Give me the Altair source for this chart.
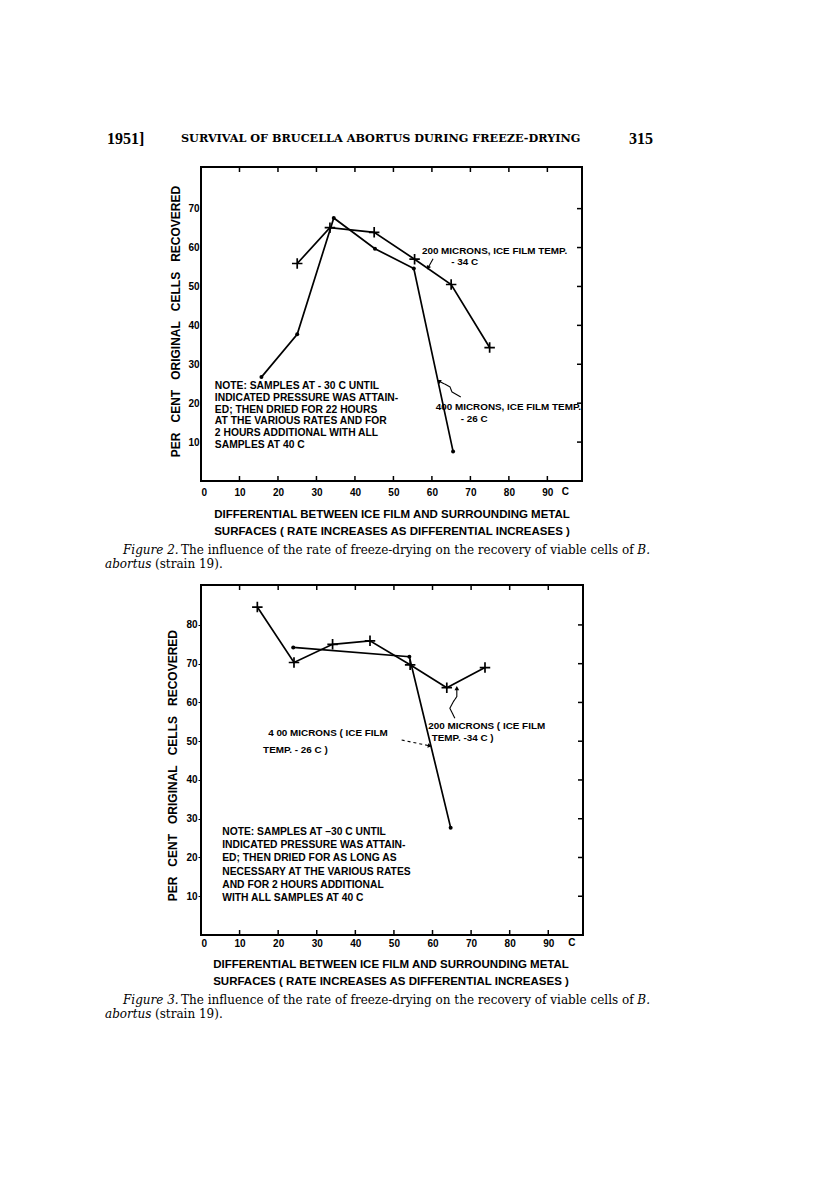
import altair as alt
import pandas as pd

# ---------------- data ----------------
header_year = "1951]"
header_title = "SURVIVAL OF BRUCELLA ABORTUS DURING FREEZE-DRYING"
header_page = "315"

x_ticks = [0, 10, 20, 30, 40, 50, 60, 70, 80, 90]
fig2_y_ticks = [10, 20, 30, 40, 50, 60, 70]
fig3_y_ticks = [10, 20, 30, 40, 50, 60, 70, 80]

# Figure 2 : 200 microns (crosses) and 400 microns (dots)
fig2_cross_x = [25.0, 33.5, 45.0, 55.5, 65.0, 75.0]
fig2_cross_y = [55.9, 65.1, 63.9, 57.0, 50.5, 34.3]
fig2_dot_x = [15.7, 25.0, 34.5, 45.2, 55.3, 65.5]
fig2_dot_y = [26.7, 37.7, 67.6, 59.7, 54.6, 7.6]

# Figure 3
fig3_cross_x = [14.6, 24.1, 34.1, 43.8, 54.2, 63.7, 73.6]
fig3_cross_y = [84.6, 70.3, 75.0, 75.9, 69.7, 63.8, 69.0]
fig3_dot_x = [23.9, 54.0, 64.7]
fig3_dot_y = [74.2, 71.8, 27.7]

# annotation labels (data coordinates)
fig2_label_text = ["200 MICRONS, ICE FILM TEMP.", "- 34 C",
                   "400 MICRONS, ICE FILM TEMP.", "- 26 C"]
fig2_label_x = [57.4, 65.0, 61.0, 67.5]
fig2_label_y = [59.1, 56.3, 19.0, 15.9]

fig3_label_text = ["4 00 MICRONS ( ICE FILM", "TEMP.  - 26  C )",
                   "200 MICRONS  ( ICE FILM", "TEMP. -34 C )"]
fig3_label_x = [17.4, 16.1, 58.9, 59.8]
fig3_label_y = [52.0, 47.7, 54.0, 50.7]

fig2_note = ["NOTE:  SAMPLES AT - 30  C  UNTIL",
             "INDICATED PRESSURE WAS ATTAIN-",
             "ED; THEN DRIED FOR  22 HOURS",
             "AT THE VARIOUS RATES AND FOR",
             "2 HOURS ADDITIONAL  WITH ALL",
             "SAMPLES AT 40  C"]
fig2_note_x, fig2_note_y = 3.6, 23.6

fig3_note = ["NOTE:  SAMPLES AT \u201330 C UNTIL",
             "INDICATED PRESSURE WAS ATTAIN-",
             "ED;  THEN DRIED FOR AS LONG AS",
             "NECESSARY AT THE VARIOUS RATES",
             "AND FOR  2 HOURS  ADDITIONAL",
             "WITH  ALL  SAMPLES AT 40 C"]
fig3_note_x, fig3_note_y = 5.5, 25.9

# pointer lines
fig2_arrow200_x = [60.3, 59.0]
fig2_arrow200_y = [57.1, 54.8]
fig2_arrow400_x = [67.5, 65.2, 64.7, 61.8]
fig2_arrow400_y = [21.6, 22.9, 24.2, 25.7]
fig3_arrow400_x = [52.0, 59.3]
fig3_arrow400_y = [50.3, 48.8]
fig3_arrow200_x = [65.8, 64.5, 65.4, 66.3, 66.3]
fig3_arrow200_y = [55.9, 58.5, 60.2, 61.5, 63.7]

unit_label = "C"
fig2_unit_x = 94.7
fig3_unit_x = 96.1

y_title = "PER\u00a0\u00a0\u00a0CENT\u00a0\u00a0\u00a0ORIGINAL\u00a0\u00a0\u00a0CELLS\u00a0\u00a0\u00a0RECOVERED"
x_title_1 = "DIFFERENTIAL BETWEEN ICE FILM AND SURROUNDING METAL"
x_title_2 = "SURFACES ( RATE INCREASES AS DIFFERENTIAL INCREASES )"
caption_main = "The influence of the rate of freeze-drying on the recovery of viable cells of"

SANS = "Liberation Sans"
SERIF = "DejaVu Serif"
PLUS = "M-1,0L1,0M0,-1L0,1"
CAP = 12


def page_text(text, x, y, font=SANS, size=10, weight="bold", style="normal",
              align="left", angle=0):
    return alt.Chart(pd.DataFrame({"t": [text]})).mark_text(
        font=font, fontSize=size, fontWeight=weight, fontStyle=style,
        align=align, baseline="middle", angle=angle, color="black"
    ).encode(text="t:N", x=alt.value(x), y=alt.value(y))


def figure(w, h, ydom, yticks, cx, cy, dx, dy, lab_t, lab_x, lab_y,
           note, note_x, note_y, note_lh, arrows, heads, unit_x,
           xlab_pad, ylab_pad, ytick_size, ytitle_x, ytitle_y,
           xt1_y, xt2_y, xt_x, cap_y, fig_name, extra):
    X = alt.X("x:Q", scale=alt.Scale(domain=[0, 99], nice=False, zero=False),
              axis=alt.Axis(values=x_ticks, format="d", title=None, grid=False,
                            domain=False, ticks=False, labelPadding=xlab_pad,
                            labelBaseline="middle", labelFont=SANS, labelFontSize=10,
                            labelFontWeight="bold", labelColor="black"))
    Y = alt.Y("y:Q", scale=alt.Scale(domain=ydom, nice=False, zero=False),
              axis=alt.Axis(values=yticks, format="d", title=None, grid=False,
                            domain=False, ticks=ytick_size > 0,
                            tickSize=max(ytick_size, 0.1), tickColor="black",
                            labelPadding=ylab_pad, labelFont=SANS, labelFontSize=10,
                            labelFontWeight="bold", labelColor="black"))

    cross = pd.DataFrame({"x": cx, "y": cy, "s": "200"})
    dots = pd.DataFrame({"x": dx, "y": dy, "s": "400"})
    both = pd.concat([cross, dots])

    layers = []
    layers.append(alt.Chart(both).mark_line(color="black", strokeWidth=1.7).encode(
        x=X, y=Y, detail="s:N"))
    layers.append(alt.Chart(cross).mark_point(shape=PLUS, size=110, strokeWidth=1.7,
                                              color="black", filled=False, opacity=1).encode(x=X, y=Y))
    layers.append(alt.Chart(dots).mark_circle(size=16, color="black", opacity=1).encode(x=X, y=Y))

    # inward ticks on top, bottom and right edges
    xt = pd.DataFrame({"x": x_ticks[1:]})
    layers.append(alt.Chart(xt).mark_rule(color="black", strokeWidth=1.5).encode(
        x=X, y=alt.value(0), y2=alt.value(5)))
    layers.append(alt.Chart(xt).mark_rule(color="black", strokeWidth=1.5).encode(
        x=X, y=alt.value(h - 5), y2=alt.value(h)))
    yt = pd.DataFrame({"y": yticks})
    layers.append(alt.Chart(yt).mark_rule(color="black", strokeWidth=1.5).encode(
        y=Y, x=alt.value(w - 5), x2=alt.value(w)))

    # annotations
    lab = pd.DataFrame({"x": lab_x, "y": lab_y, "t": lab_t})
    layers.append(alt.Chart(lab).mark_text(font=SANS, fontSize=9.9, fontWeight="bold",
                                           align="left", baseline="middle", color="black").encode(
        x=X, y=Y, text="t:N"))
    nt = pd.DataFrame({"x": [note_x], "y": [note_y], "t": [note]})
    layers.append(alt.Chart(nt).mark_text(font=SANS, fontSize=10.3, fontWeight="bold",
                                          align="left", baseline="alphabetic", lineHeight=note_lh,
                                          color="black").encode(x=X, y=Y, text="t"))
    for (ax, ay, dash) in arrows:
        d = pd.DataFrame({"x": ax, "y": ay, "o": list(range(len(ax)))})
        layers.append(alt.Chart(d).mark_line(color="black", strokeWidth=1.1,
                                             strokeDash=dash if dash else [1, 0]).encode(
            x=X, y=Y, order="o:Q"))
    for (hx, hy, ang) in heads:
        d = pd.DataFrame({"x": [hx], "y": [hy]})
        layers.append(alt.Chart(d).mark_point(shape="triangle-up", size=22, angle=ang,
                                              filled=True, color="black", opacity=1).encode(x=X, y=Y))

    un = pd.DataFrame({"x": [unit_x], "t": [unit_label]})
    layers.append(alt.Chart(un).mark_text(font=SANS, fontSize=10, fontWeight="bold",
                                          baseline="middle", color="black").encode(
        x=X, y=alt.value(h + xlab_pad), text="t:N"))

    # axis titles
    layers.append(page_text(y_title, ytitle_x, ytitle_y, size=12, align="center", angle=270))
    layers.append(page_text(x_title_1, xt_x, xt1_y, size=11.5, align="center"))
    layers.append(page_text(x_title_2, xt_x, xt2_y, size=11.5, align="center"))

    # caption
    layers.append(page_text(fig_name, -78, cap_y, font=SERIF, size=CAP, weight="normal", style="italic"))
    layers.append(page_text(caption_main, -20, cap_y, font=SERIF, size=CAP, weight="normal"))
    layers.append(page_text("B.", 449, cap_y, font=SERIF, size=CAP, weight="normal",
                            style="italic", align="right"))
    layers.append(page_text("abortus", -96, cap_y + 14, font=SERIF, size=CAP, weight="normal",
                            style="italic"))
    layers.append(page_text("(strain 19).", -46, cap_y + 14, font=SERIF, size=CAP, weight="normal"))

    layers += extra
    return alt.layer(*layers).properties(width=w, height=h)


header = [
    page_text(header_year, -94, -28, font="Liberation Serif", size=16),
    page_text(header_title, -20, -28, font=SERIF, size=11.25),
    page_text(header_page, 452, -28, font="Liberation Serif", size=16, align="right"),
]

fig2 = figure(
    381, 314, [0, 80.7], fig2_y_ticks,
    fig2_cross_x, fig2_cross_y, fig2_dot_x, fig2_dot_y,
    fig2_label_text, fig2_label_x, fig2_label_y,
    fig2_note, fig2_note_x, fig2_note_y, 11.7,
    [(fig2_arrow200_x, fig2_arrow200_y, None), (fig2_arrow400_x, fig2_arrow400_y, None)],
    [(fig2_arrow200_x[-1], fig2_arrow200_y[-1], 207), (fig2_arrow400_x[-1], fig2_arrow400_y[-1], 299)],
    fig2_unit_x, 11, 2, 0, -25, 154.5, 348, 365, 191, 383, "Figure 2.", header)

fig3 = figure(
    382, 350, [0, 90.3], fig3_y_ticks,
    fig3_cross_x, fig3_cross_y, fig3_dot_x, fig3_dot_y,
    fig3_label_text, fig3_label_x, fig3_label_y,
    fig3_note, fig3_note_x, fig3_note_y, 13.3,
    [(fig3_arrow400_x, fig3_arrow400_y, [3, 3]), (fig3_arrow200_x, fig3_arrow200_y, None)],
    [(fig3_arrow400_x[-1], fig3_arrow400_y[-1], 101), (fig3_arrow200_x[-1], fig3_arrow200_y[-1], 0)],
    fig3_unit_x, 8, 1, 3, -28, 180.7, 380, 397, 190, 415, "Figure 3.", [])

chart = alt.vconcat(fig2, fig3, spacing=104, bounds="flush").properties(
    padding={"left": 96, "top": 122, "right": 5, "bottom": 5}
).configure_view(stroke="black", strokeWidth=2)

chart.save("out.html", embed_options={"renderer": "svg", "actions": False})
